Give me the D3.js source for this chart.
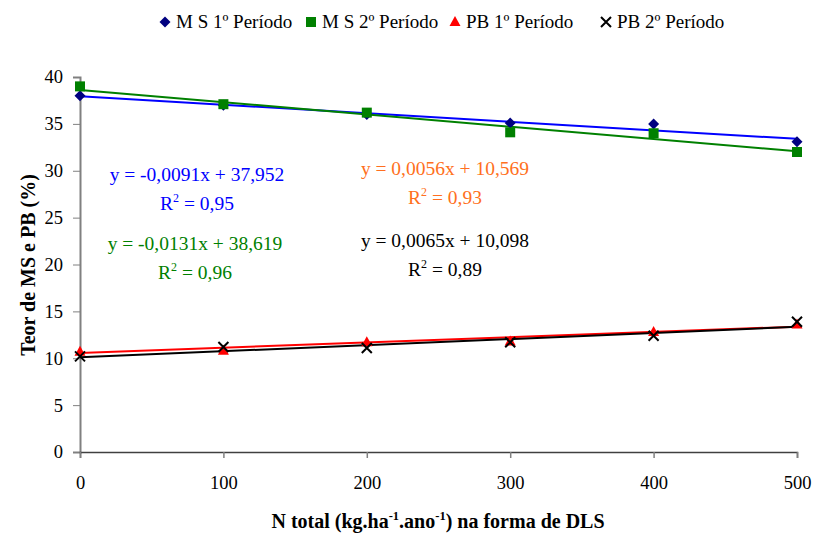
<!DOCTYPE html>
<html><head><meta charset="utf-8">
<script src="https://cdn.jsdelivr.net/npm/d3@7"></script>
<style>body{margin:0;background:#fff}svg{display:block}svg text{font-family:"Liberation Serif","Times New Roman",Tinos,"DejaVu Serif",serif !important}</style>
</head><body><svg id="c" width="815" height="534"></svg>
<script>
const doses = [0, 100, 200, 300, 400, 500];
const ms1 = [38.0, 37.0, 36.0, 35.1, 35.0, 33.1];
const ms2 = [39.0, 37.1, 36.2, 34.1, 34.0, 32.0];
const pb1 = [10.7, 10.8, 11.7, 11.8, 12.8, 13.6];
const pb2 = [10.2, 11.2, 11.1, 11.7, 12.4, 13.9];
const seriesNames = ["M S 1º Período", "M S 2º Período", "PB 1º Período", "PB 2º Período"];
const slopes = [-0.0091, -0.0131, 0.0056, 0.0065];
const intercepts = [37.952, 38.619, 10.569, 10.098];
const eqTexts = ["y = -0,0091x + 37,952", "y = -0,0131x + 38,619", "y = 0,0056x + 10,569", "y = 0,0065x + 10,098"];
const r2Texts = ["0,95", "0,96", "0,93", "0,89"];
const yTicks = [0, 5, 10, 15, 20, 25, 30, 35, 40];
const xTicks = [0, 100, 200, 300, 400, 500];

const svg = d3.select("#c");
const x = d3.scaleLinear().domain([0, 500]).range([80, 797]);
const y = d3.scaleLinear().domain([0, 40]).range([452, 77]);

const markerColors = ["#000080", "#008000", "#ff0000", "#000000"];
const lineColors = ["#0000ff", "#008000", "#ff0000", "#000000"];
const eqColors = ["#0000ff", "#008000", "#ff6f20", "#000000"];
const values = [ms1, ms2, pb1, pb2];

// axes
const yAx = svg.append("g").attr("transform", "translate(80,0)")
  .call(d3.axisLeft(y).tickValues(yTicks).tickSize(7).tickPadding(10).tickFormat(d3.format("d")));
yAx.select(".domain").attr("stroke", "#808080").attr("stroke-width", 2);
yAx.selectAll(".tick line").attr("stroke", "#808080");
yAx.selectAll("text").attr("font-size", 18.5).attr("fill", "#000");

const xAx = svg.append("g").attr("transform", "translate(0,452)")
  .call(d3.axisBottom(x).tickValues(xTicks).tickSize(6).tickPadding(18).tickFormat(d3.format("d")));
xAx.select(".domain").attr("stroke", "#404040").attr("stroke-width", 1.5);
xAx.selectAll(".tick line").attr("stroke", "#808080").attr("stroke-width", 1.5);
xAx.selectAll("text").attr("font-size", 18.5).attr("fill", "#000");

// trendlines
slopes.forEach((m, i) => {
  svg.append("line")
    .attr("x1", x(0)).attr("y1", y(intercepts[i]))
    .attr("x2", x(500)).attr("y2", y(intercepts[i] + m * 500))
    .attr("stroke", lineColors[i]).attr("stroke-width", 2);
});

function drawMarker(g, type, cx, cy, color) {
  if (type === 0) {
    g.append("path").attr("d", `M${cx},${cy-5.5}L${cx+5.5},${cy}L${cx},${cy+5.5}L${cx-5.5},${cy}Z`).attr("fill", color);
  } else if (type === 1) {
    g.append("rect").attr("x", cx-5).attr("y", cy-5).attr("width", 10).attr("height", 10).attr("fill", color);
  } else if (type === 2) {
    g.append("path").attr("d", `M${cx},${cy-6}L${cx+5.5},${cy+4}L${cx-5.5},${cy+4}Z`).attr("fill", color);
  } else {
    g.append("path").attr("d", `M${cx-5},${cy-5}L${cx+5},${cy+5}M${cx+5},${cy-5}L${cx-5},${cy+5}`)
      .attr("stroke", color).attr("stroke-width", 2).attr("fill", "none");
  }
}

const mg = svg.append("g");
values.forEach((vals, i) => {
  vals.forEach((v, j) => drawMarker(mg, i, x(doses[j]), y(v), markerColors[i]));
});

// equations
const eqPos = [[197, 181], [195, 250], [445, 175], [445, 247]];
eqTexts.forEach((t, i) => {
  const [ex, ey] = eqPos[i];
  svg.append("text").attr("x", ex).attr("y", ey).attr("text-anchor", "middle")
    .attr("font-size", 19.5).attr("fill", eqColors[i]).text(t);
  const r = svg.append("text").attr("x", ex).attr("y", ey + 29).attr("text-anchor", "middle")
    .attr("font-size", 19.5).attr("fill", eqColors[i]);
  r.append("tspan").text("R");
  r.append("tspan").attr("dy", -8).attr("font-size", 12).text("2");
  r.append("tspan").attr("dy", 8).text(" = " + r2Texts[i]);
});

// legend
const legX = [165, 311, 455, 606];
seriesNames.forEach((n, i) => {
  const g = svg.append("g");
  drawMarker(g, i, legX[i], 22, markerColors[i]);
  g.append("text").attr("x", legX[i] + 11).attr("y", 28).attr("font-size", 19).attr("fill", "#000").text(n);
});

// axis titles
svg.append("text").attr("transform", "translate(35,265) rotate(-90)").attr("text-anchor", "middle")
  .attr("font-size", 20).attr("font-weight", "bold").text("Teor de MS e PB (%)");
const xt = svg.append("text").attr("x", 438).attr("y", 528).attr("text-anchor", "middle")
  .attr("font-size", 20).attr("font-weight", "bold");
xt.append("tspan").text("N total (kg.ha");
xt.append("tspan").attr("dy", -8).attr("font-size", 12.5).text("-1");
xt.append("tspan").attr("dy", 8).text(".ano");
xt.append("tspan").attr("dy", -8).attr("font-size", 12.5).text("-1");
xt.append("tspan").attr("dy", 8).text(") na forma de DLS");
</script></body></html>
